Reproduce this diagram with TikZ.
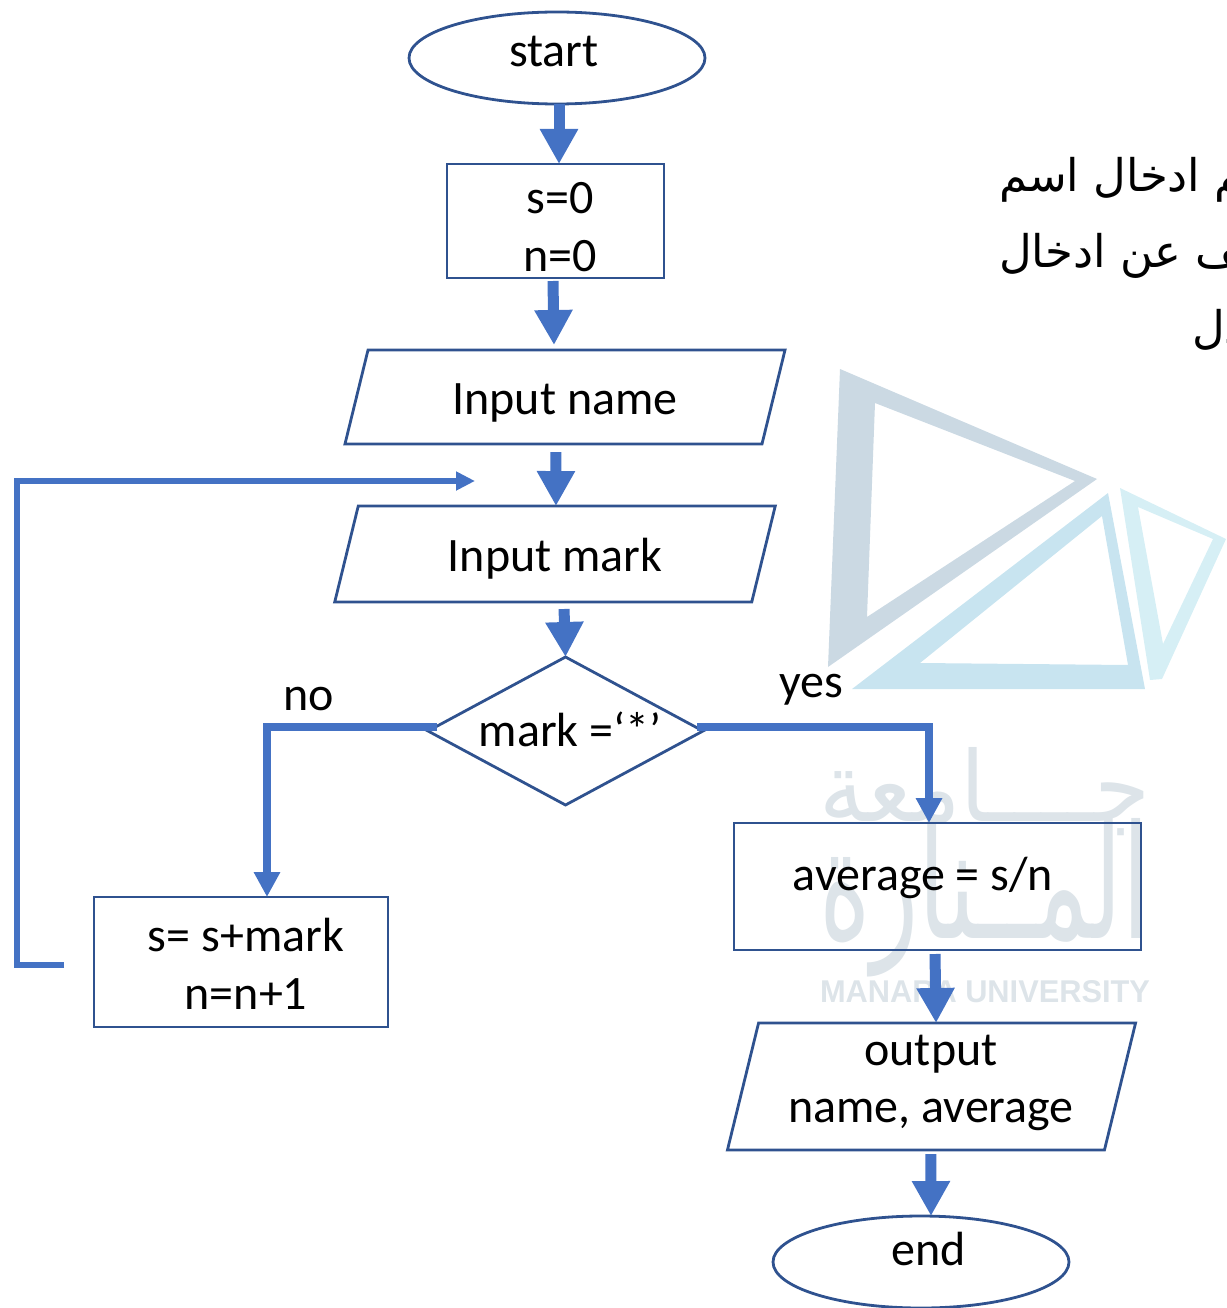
\documentclass[tikz,border=0pt]{standalone}
\usepackage{fontspec}
\setmainfont{Carlito}
\newfontfamily\arabicfont[Script=Arabic]{DejaVu Sans}
\newfontfamily\wmfont{Liberation Sans}
\TeXXeTstate=1
\usetikzlibrary{shapes.geometric,arrows.meta,calc}
\definecolor{shapeline}{HTML}{2F528F}
\definecolor{flow}{HTML}{4472C4}
\definecolor{wmdark}{HTML}{CBD9E3}
\definecolor{wmmid}{HTML}{C8E4F0}
\definecolor{wmlight}{HTML}{D6EFF5}
\definecolor{wmtext}{HTML}{DDE4E9}
\tikzset{
  x=1pt,y=-1pt,
  shapebase/.style={draw=shapeline,line width=2.8pt,inner sep=0pt,outer sep=0pt},
  terminal/.style={shapebase,ellipse,minimum width=296pt,minimum height=92pt},
  procbox/.style={shapebase,rectangle},
  iobox/.style={shapebase,rectangle,xslant=0.245},
  decisionbox/.style={shapebase,diamond,minimum width=275pt,minimum height=148pt,aspect=1.86},
  lbl/.style={font=\fontsize{48}{48}\selectfont,anchor=base,inner sep=0pt,text=black},
  arlbl/.style={font=\fontsize{45}{45}\selectfont\arabicfont,anchor=base west,inner sep=0pt,text=black},
  blockarrow/.style={draw=flow,line width=11pt,-{Triangle[width=36pt,length=35pt]}},
  elbowarrow/.style={draw=flow,line width=8pt,-{Triangle[width=25pt,length=25pt]}},
  looparrow/.style={draw=flow,line width=6pt,-{Triangle[width=18pt,length=19pt]}},
}
\begin{document}
\begin{tikzpicture}
\useasboundingbox (0,0) rectangle (1226,1308);
% watermark
\fill[wmdark,even odd rule] (840,369) -- (1097,479) -- (828,667) -- cycle (875,403) -- (1075,481) -- (867,617) -- cycle;
\fill[wmmid,even odd rule] (1108,493) -- (1145,689) -- (852,689) -- cycle (1102,516) -- (1128,665) -- (920,663) -- cycle;
\fill[wmlight,even odd rule] (1120,488) -- (1226,539) -- (1162,679) -- (1150,680) -- cycle (1138,507) -- (1213,539) -- (1163,644) -- cycle;
\node[inner sep=0pt,text=wmtext] (wm1) at (985,792) {\resizebox{330pt}{74pt}{\arabicfont\beginR جــــامعة\endR}};
\node[inner sep=0pt,text=wmtext] (wm2) at (985,898) {\resizebox{330pt}{120pt}{\arabicfont\beginR المــنارة\endR}};
\node[inner sep=0pt,text=wmtext] (wm3) at (985,992) {\resizebox{330pt}{22pt}{\wmfont\bfseries MANARA UNIVERSITY}};
% shapes
\node[terminal] (start) at (557,58) {};
\node[procbox,minimum width=217pt,minimum height=114pt] (init) at (555.5,221) {};
\node[iobox,minimum width=417pt,minimum height=94pt] (inname) at (565,397) {};
\node[iobox,minimum width=417pt,minimum height=96pt] (inmark) at (555,554) {};
\node[decisionbox] (test) at (565.5,731) {};
\node[procbox,minimum width=294pt,minimum height=130pt] (sum) at (241,962) {};
\node[procbox,minimum width=407pt,minimum height=127pt] (avg) at (937.5,886.5) {};
\node[iobox,minimum width=377pt,minimum height=127pt] (out) at (931.5,1086.5) {};
\node[terminal] (end) at (921,1262) {};
% labels
\node[lbl] (tstart) at (554,67) {start};
\node[lbl] (tinita) at (560,213) {s=0};
\node[lbl] (tinitb) at (560,271) {n=0};
\node[lbl] (tname) at (565,414) {Input name};
\node[lbl] (tmark) at (555,571) {Input mark};
\node[lbl] (ttest) at (570,746) {mark =‘*’};
\node[lbl] (tno) at (309,710) {no};
\node[lbl] (tyes) at (811,697) {yes};
\node[lbl] (tavg) at (923,890) {average = s/n};
\node[lbl] (tsuma) at (246,951) {s= s+mark};
\node[lbl] (tsumb) at (246,1009) {n=n+1};
\node[lbl] (touta) at (931,1065) {output};
\node[lbl] (toutb) at (931,1122) {name, average};
\node[lbl] (tend) at (929,1265) {end};
% arabic note, cut by the picture's right edge
\begin{scope}
\clip (900,100) rectangle (1226,400);
\node[arlbl] (ara) at (999,192) {\beginR يتم ادخال اسم\endR};
\node[arlbl] (arb) at (999,267) {\beginR يتوقف عن ادخال\endR};
\node[arlbl] (arc) at (1192,343) {\beginR المعدل\endR};
\end{scope}
% connectors
\draw[blockarrow] ([xshift=2pt]start.south) -- ([xshift=3.5pt]init.north);
\draw[blockarrow] ([xshift=-2.5pt,yshift=-3pt]init.south) -- ([xshift=-22.5pt,yshift=5pt]inname.north);
\draw[blockarrow] ([xshift=2.5pt,yshift=-8pt]inname.south) -- ([xshift=-10.8pt]inmark.north);
\draw[blockarrow] ([xshift=20.8pt,yshift=-7pt]inmark.south) -- (test.north);
\coordinate (nobend) at (267,727);
\coordinate (yesbend) at (929,727);
\draw[elbowarrow] ([xshift=9pt,yshift=4pt]test.west) -- (nobend) -- (nobend |- sum.north);
\draw[elbowarrow] ([xshift=-6pt,yshift=4pt]test.east) -- (yesbend) -- (yesbend |- avg.north);
\coordinate (loopstart) at (64,965);
\coordinate (loopa) at (17,965);
\coordinate (loopb) at (17,481);
\coordinate (loopend) at (475,481);
\draw[looparrow] (loopstart) -- (loopa) -- (loopb) -- (loopend);
\draw[blockarrow] ([xshift=-2.5pt,yshift=-4pt]avg.south) -- ([xshift=-11pt]out.north);
\draw[blockarrow] ([xshift=15pt,yshift=-4pt]out.south) -- ([xshift=10pt]end.north);
\end{tikzpicture}
\end{document}
